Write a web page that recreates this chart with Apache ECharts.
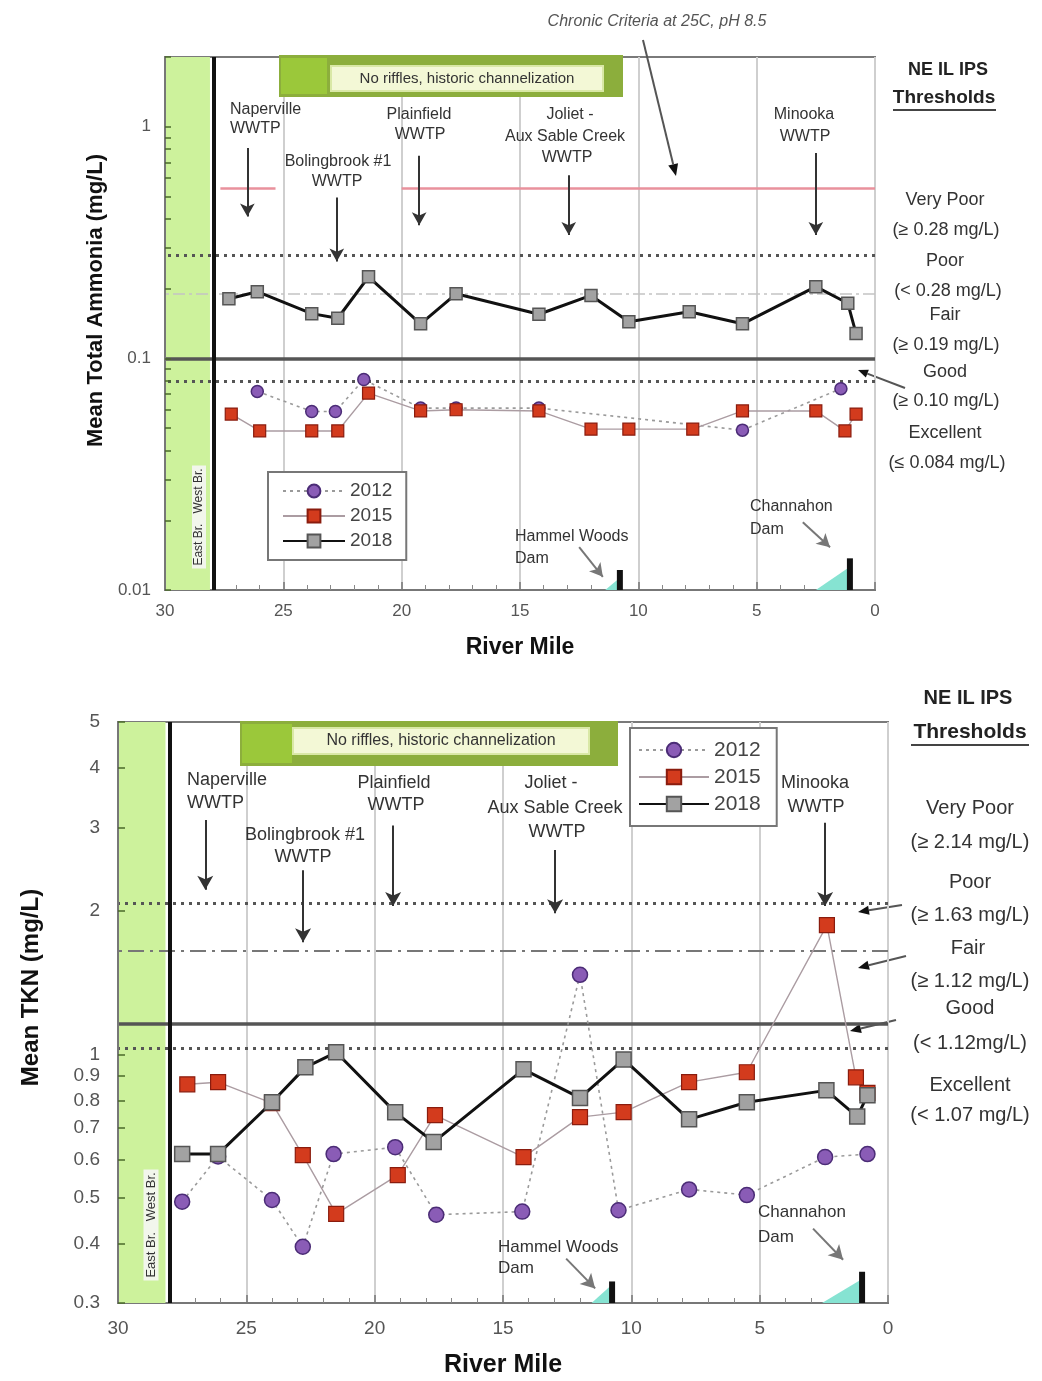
<!DOCTYPE html>
<html><head><meta charset="utf-8">
<script src="https://cdn.jsdelivr.net/npm/echarts@6/dist/echarts.min.js"></script>
<style>html,body{margin:0;padding:0;background:#fff}#c{width:1042px;height:1381px}</style>
</head><body><div id="c"></div>
<script>
// ================= DATA =================
// Top panel: Mean Total Ammonia (mg/L) vs River Mile
const ammMiles2012 = [26.1, 23.8, 22.8, 21.6, 19.2, 17.7, 14.2, 5.6, 1.44];
const amm2012      = [0.072, 0.059, 0.059, 0.081, 0.061, 0.061, 0.061, 0.049, 0.074];
const ammMiles2015 = [27.2, 26.0, 23.8, 22.7, 21.4, 19.2, 17.7, 14.2, 12.0, 10.4, 7.7, 5.6, 2.5, 1.27, 0.8];
const amm2015      = [0.0575, 0.0486, 0.0486, 0.0486, 0.0708, 0.0593, 0.060, 0.0593, 0.0495, 0.0495, 0.0495, 0.0593, 0.0593, 0.0486, 0.0575];
const ammMiles2018 = [27.3, 26.1, 23.8, 22.7, 21.4, 19.2, 17.7, 14.2, 12.0, 10.4, 7.85, 5.6, 2.5, 1.15, 0.8];
const amm2018      = [0.181, 0.194, 0.156, 0.149, 0.225, 0.141, 0.190, 0.155, 0.187, 0.144, 0.159, 0.141, 0.204, 0.173, 0.128];
const ammThresholds = [0.28, 0.19, 0.10, 0.084];
const ammCriteria = 0.54;
const ammYLabels = [0.01, 0.1, 1];
const ammYTicks = [0.01,0.02,0.03,0.04,0.05,0.06,0.07,0.08,0.09,0.1,0.2,0.3,0.4,0.5,0.6,0.7,0.8,0.9,1,2];

// Bottom panel: Mean TKN (mg/L) vs River Mile
const tknMiles2012 = [27.5, 26.1, 24.0, 22.8, 21.6, 19.2, 17.6, 14.25, 12.0, 10.5, 7.75, 5.5, 2.45, 0.8];
const tkn2012      = [0.49, 0.61, 0.494, 0.394, 0.617, 0.638, 0.46, 0.467, 1.47, 0.47, 0.52, 0.506, 0.608, 0.617];
const tknMiles2015 = [27.3, 26.1, 24.0, 22.8, 21.5, 19.1, 17.65, 14.2, 12.0, 10.3, 7.75, 5.5, 2.38, 1.25, 0.8];
const tkn2015      = [0.865, 0.874, 0.79, 0.614, 0.462, 0.557, 0.745, 0.608, 0.738, 0.756, 0.874, 0.917, 1.87, 0.895, 0.83];
const tknMiles2018 = [27.5, 26.1, 24.0, 22.7, 21.5, 19.2, 17.7, 14.2, 12.0, 10.3, 7.75, 5.5, 2.4, 1.2, 0.8];
const tkn2018      = [0.617, 0.617, 0.793, 0.939, 1.01, 0.756, 0.654, 0.93, 0.81, 0.976, 0.73, 0.793, 0.84, 0.74, 0.82];
const tknThresholds = [2.08, 1.65, 1.16, 1.03];
const tknYLabels = [0.3,0.4,0.5,0.6,0.7,0.8,0.9,1,2,3,4,5];

const xTickLabels = [0, 5, 10, 15, 20, 25, 30];
const yearNames = ['2012', '2015', '2018'];

// Dams: [river mile, crest value, toe mile, toe-apex value]
const ammDams = [[10.78, 0.0122, 11.4, 0.0113], [1.06, 0.0137, 2.5, 0.0126]];
const tknDams = [[10.75, 0.333, 11.55, 0.328], [1.01, 0.349, 2.57, 0.337]];

// ================= HELPERS =================
const FONT = '"Liberation Sans", Arial, Helvetica, sans-serif';
const pairs = (xs, ys) => xs.map((x, i) => [x, ys[i]]);
const fmt = v => String(+(+v).toPrecision(3));

function T(x, y, text, size, extra) {
  const st = Object.assign({text: text, fontSize: size, fontFamily: FONT, fill: '#333', align: 'center', verticalAlign: 'middle'}, extra || {});
  return {type: 'text', x: x, y: y, silent: true, z: 50, style: st};
}
function arrow(x1, y1, x2, y2, head) {
  const a = Math.atan2(y2 - y1, x2 - x1), h = head || 11, w = h * 0.42;
  const bx = x2 - h * Math.cos(a), by = y2 - h * Math.sin(a);
  return {type: 'group', silent: true, z: 50, children: [
    {type: 'line', shape: {x1: x1, y1: y1, x2: bx, y2: by}, style: {stroke: '#555', lineWidth: 2}},
    {type: 'polygon', shape: {points: [[x2, y2], [bx - w * Math.sin(a), by + w * Math.cos(a)], [bx + w * Math.sin(a), by - w * Math.cos(a)]]}, style: {fill: '#111'}}
  ]};
}
function damRender(ymin) {
  return function (params, api) {
    const m = api.value(0);
    const base = api.coord([m, ymin]);
    const top = api.coord([m, api.value(1)]);
    const toe = api.coord([api.value(2), ymin]);
    const apex = api.coord([m, api.value(3)]);
    return {type: 'group', children: [
      {type: 'polygon', shape: {points: [toe, [base[0], base[1]], apex]}, style: {fill: '#86e3d2'}},
      {type: 'rect', shape: {x: base[0] - 3, y: top[1], width: 6, height: base[1] - top[1]}, style: {fill: '#111'}}
    ]};
  };
}

const styles = {
  '2012': {symbol: 'circle', itemStyle: {color: '#8a5cb6', borderColor: '#4b2c76', borderWidth: 1.5}, lineStyle: {color: '#9a9a9a', width: 1.6, type: [3, 4]}},
  '2015': {symbol: 'rect', itemStyle: {color: '#d33b1d', borderColor: '#8a1c0e', borderWidth: 1.2}, lineStyle: {color: '#ab9ca2', width: 1.4}},
  '2018': {symbol: 'rect', itemStyle: {color: '#a2a2a2', borderColor: '#555', borderWidth: 1.5}, lineStyle: {color: '#111', width: 3}}
};
function yearSeries(name, data, gi, size) {
  const s = styles[name];
  return {name: name, type: 'line', xAxisIndex: gi, yAxisIndex: gi, data: data, symbol: s.symbol, symbolSize: size,
    itemStyle: s.itemStyle, lineStyle: s.lineStyle, z: 5 + yearNames.indexOf(name)};
}
function thresholdLines(vals, types) {
  return vals.map((v, i) => ({yAxis: v, lineStyle: types[i]}));
}
const dotted = {type: [3, 5], width: 3, color: '#555'};

// ================= OPTION =================
const axisLabelFont = {fontFamily: FONT, color: '#555'};
const option = {
  animation: false,
  backgroundColor: '#fff',
  grid: [
    {left: 165, top: 57, width: 710, height: 533, show: true, borderColor: '#7a7a7a', borderWidth: 2, backgroundColor: '#fff'},
    {left: 118, top: 722, width: 770, height: 581, show: true, borderColor: '#7a7a7a', borderWidth: 2, backgroundColor: '#fff'}
  ],
  xAxis: [0, 1].map(gi => ({
    gridIndex: gi, type: 'value', min: 0, max: 30, interval: 5, inverse: true,
    name: 'River Mile', nameLocation: 'middle', nameGap: gi ? 50 : 46,
    nameTextStyle: {fontFamily: FONT, fontWeight: 'bold', fontSize: gi ? 25 : 23, color: '#111'},
    axisLine: {show: true, onZero: false, lineStyle: {color: '#777', width: 2}},
    axisTick: {show: true, inside: true, length: 8, lineStyle: {color: '#777', width: 1.5}},
    minorTick: {show: true, splitNumber: 5, length: 5, lineStyle: {color: '#888'}},
    axisLabel: Object.assign({fontSize: gi ? 19 : 17, margin: gi ? 16 : 13, formatter: v => xTickLabels.indexOf(v) >= 0 ? String(v) : ''}, axisLabelFont),
    splitLine: {show: true, lineStyle: {color: '#cfcfcf', width: 2}}
  })),
  yAxis: [
    {gridIndex: 0, type: 'log', logBase: 10, min: 0.01, max: 2, position: 'left', z: 10,
     name: 'Mean Total Ammonia (mg/L)', nameLocation: 'middle', nameGap: 58,
     nameTextStyle: {fontFamily: FONT, fontWeight: 'bold', fontSize: 22, color: '#111', padding: [0, 0, 0, 46]},
     axisLine: {show: true, onZero: false, lineStyle: {color: '#777', width: 2}},
     axisTick: {show: true, inside: true, length: 6, customValues: ammYTicks, lineStyle: {color: '#4a6a2a', width: 1.5}},
     axisLabel: Object.assign({fontSize: 17, margin: 14, customValues: ammYLabels, formatter: fmt}, axisLabelFont),
     splitLine: {show: false}},
    {gridIndex: 1, type: 'log', logBase: 10, min: 0.3, max: 5, position: 'left', z: 10,
     name: 'Mean TKN (mg/L)', nameLocation: 'middle', nameGap: 75,
     nameTextStyle: {fontFamily: FONT, fontWeight: 'bold', fontSize: 24, color: '#111', padding: [0, 0, 0, 50]},
     axisLine: {show: true, onZero: false, lineStyle: {color: '#777', width: 2}},
     axisTick: {show: true, inside: true, length: 7, customValues: tknYLabels, lineStyle: {color: '#4a6a2a', width: 1.5}},
     axisLabel: Object.assign({fontSize: 19, margin: 18, customValues: tknYLabels, formatter: fmt}, axisLabelFont),
     splitLine: {show: false}}
  ],
  legend: [
    {data: yearNames, orient: 'vertical', left: 268, top: 472, padding: [9, 14, 9, 14], itemGap: 5, itemWidth: 62, itemHeight: 16,
     borderColor: '#777', borderWidth: 2, backgroundColor: '#fff', selectedMode: false, z: 60,
     textStyle: {fontFamily: FONT, fontSize: 19, color: '#444', lineHeight: 20}},
    {data: yearNames, orient: 'vertical', left: 630, top: 728, padding: [11, 16, 11, 8], itemGap: 5, itemWidth: 70, itemHeight: 18,
     borderColor: '#777', borderWidth: 2, backgroundColor: '#fff', selectedMode: false, z: 60,
     textStyle: {fontFamily: FONT, fontSize: 21, color: '#444', lineHeight: 22}}
  ],
  series: [
    // ---- top panel reference artwork ----
    {name: 'ammRef', type: 'line', xAxisIndex: 0, yAxisIndex: 0, data: [], silent: true, z: 1,
     markArea: {silent: true, itemStyle: {color: '#cdf29c', opacity: 1}, data: [[{xAxis: 30}, {xAxis: 28.1}]]},
     markLine: {silent: true, symbol: ['none', 'none'], label: {show: false}, animation: false,
       data: thresholdLines(ammThresholds, [dotted, {type: [12, 4, 3, 4], width: 1.5, color: '#c4c4c4'}, {type: 'solid', width: 3.5, color: '#555'}, dotted])
         .concat([{xAxis: 27.95, lineStyle: {type: 'solid', width: 4, color: '#111'}}])
         .concat([
           [{coord: [27.66, ammCriteria], lineStyle: {type: 'solid', width: 2.5, color: '#e9919c'}}, {coord: [25.33, ammCriteria]}],
           [{coord: [20.0, ammCriteria], lineStyle: {type: 'solid', width: 2.5, color: '#e9919c'}}, {coord: [0, ammCriteria]}]
         ])}},
    {name: 'ammArrows', type: 'line', xAxisIndex: 0, yAxisIndex: 0, data: [], silent: true, z: 20,
     markLine: {silent: true, symbol: ['none', 'arrow'], symbolSize: [11, 13], label: {show: false}, lineStyle: {type: 'solid', color: '#333', width: 2},
       data: [
         [{coord: [26.52, 0.81]}, {coord: [26.52, 0.41]}],
         [{coord: [22.74, 0.495]}, {coord: [22.74, 0.262]}],
         [{coord: [19.26, 0.75]}, {coord: [19.26, 0.376]}],
         [{coord: [12.94, 0.617]}, {coord: [12.94, 0.341]}],
         [{coord: [2.5, 0.77]}, {coord: [2.5, 0.341]}],
         [{coord: [12.5, 0.0153], lineStyle: {color: '#777'}}, {coord: [11.5, 0.0114]}],
         [{coord: [3.05, 0.0196], lineStyle: {color: '#777'}}, {coord: [1.9, 0.0153]}]
       ]}},
    {name: 'ammDams', type: 'custom', xAxisIndex: 0, yAxisIndex: 0, silent: true, z: 4, renderItem: damRender(0.01), data: ammDams},
    yearSeries('2012', pairs(ammMiles2012, amm2012), 0, 12),
    yearSeries('2015', pairs(ammMiles2015, amm2015), 0, 12),
    yearSeries('2018', pairs(ammMiles2018, amm2018), 0, 12),

    // ---- bottom panel reference artwork ----
    {name: 'tknRef', type: 'line', xAxisIndex: 1, yAxisIndex: 1, data: [], silent: true, z: 1,
     markArea: {silent: true, itemStyle: {color: '#cdf29c', opacity: 1}, data: [[{xAxis: 30}, {xAxis: 28.15}]]},
     markLine: {silent: true, symbol: ['none', 'none'], label: {show: false},
       data: thresholdLines(tknThresholds, [dotted, {type: [16, 6, 3, 6], width: 2, color: '#777'}, {type: 'solid', width: 3.5, color: '#555'}, dotted])
         .concat([{xAxis: 28.0, lineStyle: {type: 'solid', width: 4, color: '#111'}}])}},
    {name: 'tknArrows', type: 'line', xAxisIndex: 1, yAxisIndex: 1, data: [], silent: true, z: 20,
     markLine: {silent: true, symbol: ['none', 'arrow'], symbolSize: [12, 14], label: {show: false}, lineStyle: {type: 'solid', color: '#333', width: 2},
       data: [
         [{coord: [26.6, 3.11]}, {coord: [26.6, 2.22]}],
         [{coord: [22.79, 2.44]}, {coord: [22.79, 1.72]}],
         [{coord: [19.28, 3.03]}, {coord: [19.28, 2.05]}],
         [{coord: [12.97, 2.69]}, {coord: [12.97, 1.98]}],
         [{coord: [2.45, 3.07]}, {coord: [2.45, 2.05]}],
         [{coord: [12.54, 0.372], lineStyle: {color: '#777'}}, {coord: [11.41, 0.322]}],
         [{coord: [2.92, 0.43], lineStyle: {color: '#777'}}, {coord: [1.75, 0.37]}]
       ]}},
    {name: 'tknDams', type: 'custom', xAxisIndex: 1, yAxisIndex: 1, silent: true, z: 4, renderItem: damRender(0.3), data: tknDams},
    yearSeries('2012', pairs(tknMiles2012, tkn2012), 1, 15),
    yearSeries('2015', pairs(tknMiles2015, tkn2015), 1, 15),
    yearSeries('2018', pairs(tknMiles2018, tkn2018), 1, 15)
  ],
  graphic: [
    // ---- top banner ----
    {type: 'rect', shape: {x: 279, y: 55, width: 344, height: 42}, style: {fill: '#8cae3c'}, z: 40, silent: true},
    {type: 'rect', shape: {x: 281, y: 58, width: 46, height: 36}, style: {fill: '#9bc83a'}, z: 41, silent: true},
    {type: 'rect', shape: {x: 331, y: 66, width: 272, height: 25}, style: {fill: '#f3f8d6', stroke: '#d9e8a6', lineWidth: 2}, z: 41, silent: true},
    T(467, 79, 'No riffles, historic channelization', 15),
    // top criteria note
    T(657, 22, 'Chronic Criteria at 25C, pH 8.5', 16, {fontStyle: 'italic', fill: '#555'}),
    arrow(643, 40, 676, 176, 12),
    // top WWTP labels
    T(230, 110, 'Naperville', 16, {align: 'left'}),
    T(230, 129, 'WWTP', 16, {align: 'left'}),
    T(338, 162, 'Bolingbrook #1', 16),
    T(337, 182, 'WWTP', 16),
    T(419, 115, 'Plainfield', 16),
    T(420, 135, 'WWTP', 16),
    T(570, 115, 'Joliet -', 16),
    T(565, 137, 'Aux Sable Creek', 16),
    T(567, 158, 'WWTP', 16),
    T(804, 115, 'Minooka', 16),
    T(805, 137, 'WWTP', 16),
    // top dam labels
    T(515, 537, 'Hammel Woods', 16, {align: 'left'}),
    T(515, 559, 'Dam', 16, {align: 'left'}),
    T(750, 507, 'Channahon', 16, {align: 'left'}),
    T(750, 530, 'Dam', 16, {align: 'left'}),
    // top East/West Br.
    {type: 'text', x: 199, y: 517, rotation: Math.PI / 2, silent: true, z: 45,
     style: {text: 'East Br.   West Br.', fontSize: 12, fontFamily: FONT, fill: '#333', align: 'center', verticalAlign: 'middle', backgroundColor: '#f2f6ec', padding: [1, 3]}},
    // top thresholds column
    T(948, 70, 'NE IL IPS', 18, {fontWeight: 'bold', fill: '#222'}),
    T(944, 98, 'Thresholds', 19, {fontWeight: 'bold', fill: '#222'}),
    {type: 'line', shape: {x1: 893, y1: 110, x2: 996, y2: 110}, style: {stroke: '#444', lineWidth: 2}, silent: true},
    T(945, 200, 'Very Poor', 18),
    T(946, 230, '(\u2265 0.28 mg/L)', 18),
    T(945, 261, 'Poor', 18),
    T(948, 291, '(< 0.28 mg/L)', 18),
    T(945, 315, 'Fair', 18),
    T(946, 345, '(\u2265 0.19 mg/L)', 18),
    T(945, 372, 'Good', 18),
    T(946, 401, '(\u2265 0.10 mg/L)', 18),
    T(945, 433, 'Excellent', 18),
    T(947, 463, '(\u2264 0.084 mg/L)', 18),
    arrow(905, 388, 858, 370, 10),

    // ---- bottom banner ----
    {type: 'rect', shape: {x: 240, y: 721, width: 378, height: 45}, style: {fill: '#8cae3c'}, z: 40, silent: true},
    {type: 'rect', shape: {x: 242, y: 724, width: 50, height: 39}, style: {fill: '#9bc83a'}, z: 41, silent: true},
    {type: 'rect', shape: {x: 293, y: 728, width: 296, height: 26}, style: {fill: '#f3f8d6', stroke: '#d9e8a6', lineWidth: 2}, z: 41, silent: true},
    T(441, 741, 'No riffles, historic channelization', 16),
    // bottom WWTP labels
    T(187, 780, 'Naperville', 18, {align: 'left'}),
    T(187, 803, 'WWTP', 18, {align: 'left'}),
    T(305, 835, 'Bolingbrook #1', 18),
    T(303, 857, 'WWTP', 18),
    T(394, 783, 'Plainfield', 18),
    T(396, 805, 'WWTP', 18),
    T(551, 783, 'Joliet -', 18),
    T(555, 808, 'Aux Sable Creek', 18),
    T(557, 832, 'WWTP', 18),
    T(815, 783, 'Minooka', 18),
    T(816, 807, 'WWTP', 18),
    // bottom dam labels
    T(498, 1247, 'Hammel Woods', 17, {align: 'left'}),
    T(498, 1268, 'Dam', 17, {align: 'left'}),
    T(758, 1212, 'Channahon', 17, {align: 'left'}),
    T(758, 1237, 'Dam', 17, {align: 'left'}),
    // bottom East/West Br.
    {type: 'text', x: 151, y: 1225, rotation: Math.PI / 2, silent: true, z: 45,
     style: {text: 'East Br.   West Br.', fontSize: 13, fontFamily: FONT, fill: '#333', align: 'center', verticalAlign: 'middle', backgroundColor: '#f2f6ec', padding: [1, 3]}},
    // bottom thresholds column
    T(968, 698, 'NE IL IPS', 20, {fontWeight: 'bold', fill: '#222'}),
    T(970, 732, 'Thresholds', 21, {fontWeight: 'bold', fill: '#222'}),
    {type: 'line', shape: {x1: 911, y1: 745, x2: 1029, y2: 745}, style: {stroke: '#444', lineWidth: 2}, silent: true},
    T(970, 808, 'Very Poor', 20),
    T(970, 842, '(\u2265 2.14 mg/L)', 20),
    T(970, 882, 'Poor', 20),
    T(970, 915, '(\u2265 1.63 mg/L)', 20),
    T(968, 948, 'Fair', 20),
    T(970, 981, '(\u2265 1.12 mg/L)', 20),
    T(970, 1008, 'Good', 20),
    T(970, 1043, '(< 1.12mg/L)', 20),
    T(970, 1085, 'Excellent', 20),
    T(970, 1115, '(< 1.07 mg/L)', 20),
    arrow(902, 905, 858, 912, 11),
    arrow(906, 956, 858, 968, 11),
    arrow(896, 1020, 850, 1031, 11)
  ]
};

const chart = echarts.init(document.getElementById('c'), null, {renderer: 'canvas'});
chart.setOption(option);
</script>
</body></html>
